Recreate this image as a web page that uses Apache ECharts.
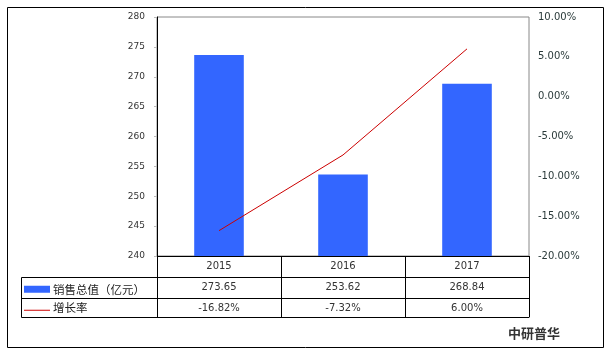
<!DOCTYPE html>
<html>
<head>
<meta charset="utf-8">
<script src="https://cdn.jsdelivr.net/npm/echarts@6/dist/echarts.min.js"></script>
<style>
  html, body { margin: 0; padding: 0; background: #fff; }
  #chart { width: 611px; height: 355px; }
</style>
</head>
<body>
<div id="chart"></div>
<script>
// 数据
var years = ['2015', '2016', '2017'];
var sales = [273.65, 253.62, 268.84];     // 销售总值（亿元）
var growth = [-16.82, -7.32, 6.00];       // 增长率 %
var salesName = '销售总值（亿元）';
var growthName = '增长率';

var myChart = echarts.init(document.getElementById('chart'));

var numFont = 'DejaVu Sans';
var cjkFont = 'Noto Sans CJK SC';

// 表格一行 = 一根 x 轴
function tableAxis(data, offset, tickLen) {
    return {
        type: 'category',
        position: 'bottom',
        offset: offset,
        data: data,
        axisLine: { show: true, onZero: false, lineStyle: { color: '#000', width: 1 } },
        axisTick: { show: true, length: tickLen, lineStyle: { color: '#000' } },
        axisLabel: { margin: 5, color: '#333', fontSize: 10, fontFamily: numFont }
    };
}

var legendText = { fontFamily: cjkFont, fontSize: 11.5, color: '#222', padding: [0, 0, 0, -2] };

var option = {
    backgroundColor: '#fff',
    animation: false,
    grid: {
        left: 157, right: 82, top: 17, bottom: 99,
        show: true, borderColor: '#888', borderWidth: 1
    },
    legend: [
        {
            left: 24, top: 283.5, padding: 0,
            itemWidth: 26, itemHeight: 7,
            textStyle: legendText,
            data: [{ name: salesName, icon: 'rect' }]
        },
        {
            left: 24, top: 301.5, padding: 0,
            itemWidth: 26, itemHeight: 7,
            itemStyle: { borderWidth: 0 },
            textStyle: legendText,
            data: [{ name: growthName, icon: 'path://M0,0M0,6H26V7H0ZM26,7' }]
        }
    ],
    xAxis: [
        tableAxis(years, 0, 21),
        tableAxis(sales.map(function (v) { return v.toFixed(2); }), 21, 21),
        tableAxis(growth.map(function (v) { return v.toFixed(2) + '%'; }), 42, 19),
        {
            type: 'category', position: 'bottom', offset: 61, data: years,
            axisLine: { show: true, onZero: false, lineStyle: { color: '#000' } },
            axisTick: { show: false }, axisLabel: { show: false }
        }
    ],
    yAxis: [
        {
            type: 'value', min: 240, max: 280, interval: 5,
            axisLine: { show: true, lineStyle: { color: '#000' } },
            axisTick: { show: true, length: 3, lineStyle: { color: '#bbb' } },
            axisLabel: { margin: 12, color: '#333', fontSize: 9, fontFamily: numFont },
            splitLine: { show: false }
        },
        {
            type: 'value', min: -20, max: 10, interval: 5,
            axisLine: { show: false },
            axisTick: { show: false },
            axisLabel: {
                margin: 9, color: '#2a3a3a', fontSize: 10, fontFamily: numFont,
                formatter: function (v) { return v.toFixed(2) + '%'; }
            },
            splitLine: { show: false }
        }
    ],
    series: [
        {
            name: salesName,
            type: 'bar',
            xAxisIndex: 0, yAxisIndex: 0,
            data: sales,
            barWidth: '40%',
            itemStyle: { color: '#3366FF' }
        },
        {
            name: growthName,
            type: 'line',
            xAxisIndex: 0, yAxisIndex: 1,
            data: growth,
            symbol: 'none',
            lineStyle: { color: '#CC0000', width: 1 },
            itemStyle: { color: '#CC0000', borderWidth: 0 }
        }
    ],
    graphic: [
        // 外框
        { type: 'rect', shape: { x: 7.5, y: 7.5, width: 596, height: 340 },
          style: { fill: 'none', stroke: '#000', lineWidth: 1 }, silent: true },
        // 图例列的表格线
        { type: 'polyline', shape: { points: [[157, 277.5], [21.5, 277.5], [21.5, 317.5], [157, 317.5]] },
          style: { fill: 'none', stroke: '#000', lineWidth: 1 }, silent: true },
        { type: 'line', shape: { x1: 21.5, y1: 298.5, x2: 157, y2: 298.5 },
          style: { stroke: '#000', lineWidth: 1 }, silent: true },
        // 来源
        { type: 'text', left: 508, top: 327,
          style: { text: '中研普华', fontFamily: cjkFont, fontSize: 13, fontWeight: 'bold', fill: '#333' } }
    ]
};

myChart.setOption(option);
window.addEventListener('resize', function () { myChart.resize(); });
</script>
</body>
</html>
